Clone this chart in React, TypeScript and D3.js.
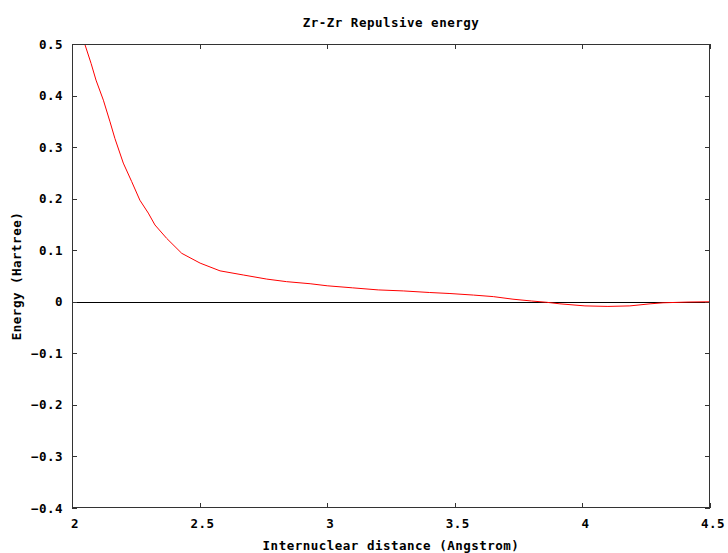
import * as d3 from "d3";

// Zr-Zr repulsive energy curve
const distance = [
  2.05, 2.075, 2.094, 2.123, 2.149, 2.168, 2.201, 2.234, 2.266, 2.299, 2.325, 2.371,
  2.43, 2.502, 2.58, 2.671, 2.763, 2.841, 2.933, 3.0, 3.1, 3.2, 3.3, 3.4, 3.481,
  3.573, 3.651, 3.728, 3.801, 3.86, 3.912, 4.01, 4.1, 4.186, 4.265, 4.316, 4.414, 4.5,
];
const energy = [
  0.5, 0.462, 0.43, 0.391, 0.349, 0.317, 0.269, 0.233, 0.197, 0.172, 0.149, 0.123,
  0.094, 0.075, 0.06, 0.052, 0.044, 0.039, 0.035, 0.031, 0.027, 0.023, 0.021, 0.018, 0.016,
  0.013, 0.01, 0.005, 0.0015, -0.001, -0.004, -0.008, -0.009, -0.008, -0.004, -0.002, -0.0005, 0,
];
const xTicks = [2, 2.5, 3, 3.5, 4, 4.5];
const yTicks = [0.5, 0.4, 0.3, 0.2, 0.1, 0, -0.1, -0.2, -0.3, -0.4];

const width = 728;
const height = 553;
const left = 72;
const right = 710;
const top = 44;
const bottom = 508;
const font = "'DejaVu Sans Mono', monospace";

export default function App() {
  const x = d3.scaleLinear([2, 4.5], [left, right]);
  const y = d3.scaleLinear([-0.4, 0.5], [bottom, top]);
  const line = d3.line<number>((d, i) => x(distance[i]), (d) => y(d));
  const tick = 5;

  return (
    <svg
      width={width}
      height={height}
      style={{ position: "absolute", left: 0, top: 0, background: "#fff" }}
      fontFamily={font}
      fontWeight="bold"
      fontSize={12.5}
      letterSpacing={0.5}
    >
      <defs>
        <clipPath id="plot">
          <rect x={left} y={top} width={right - left} height={bottom - top} />
        </clipPath>
      </defs>
      <text x={(left + right) / 2} y={27} textAnchor="middle">Zr-Zr Repulsive energy</text>
      <text x={(left + right) / 2} y={550} textAnchor="middle">Internuclear distance (Angstrom)</text>
      <text transform={`translate(21,${(top + bottom) / 2}) rotate(-90)`} textAnchor="middle">
        Energy (Hartree)
      </text>

      {/* zero axis */}
      <line x1={left} x2={right} y1={Math.round(y(0)) + 0.5} y2={Math.round(y(0)) + 0.5} stroke="#000" />

      <g stroke="#333" strokeWidth={1}>
        {xTicks.map((t) => {
          const px = Math.round(x(t)) + 0.5;
          return (
            <g key={t}>
              <line x1={px} x2={px} y1={bottom} y2={bottom - tick} />
              <line x1={px} x2={px} y1={top} y2={top + tick} />
            </g>
          );
        })}
        {yTicks.map((t) => {
          const py = Math.round(y(t)) + 0.5;
          return (
            <g key={t}>
              <line x1={left} x2={left + tick} y1={py} y2={py} />
              <line x1={right} x2={right - tick} y1={py} y2={py} />
            </g>
          );
        })}
      </g>

      {xTicks.map((t) => (
        <text key={t} x={x(t) + 3} y={528} textAnchor="middle">{String(t)}</text>
      ))}
      {yTicks.map((t) => (
        <text key={t} x={63} y={y(t) + 4.5} textAnchor="end">
          {t === 0 ? "0" : d3.format(".1f")(t)}
        </text>
      ))}

      <path
        d={line(energy) ?? ""}
        fill="none"
        stroke="#ff0000"
        strokeWidth={1}
        clipPath="url(#plot)"
      />

      <rect
        x={left + 0.5}
        y={top + 0.5}
        width={right - left - 1}
        height={bottom - top - 1}
        fill="none"
        stroke="#333"
      />
    </svg>
  );
}
